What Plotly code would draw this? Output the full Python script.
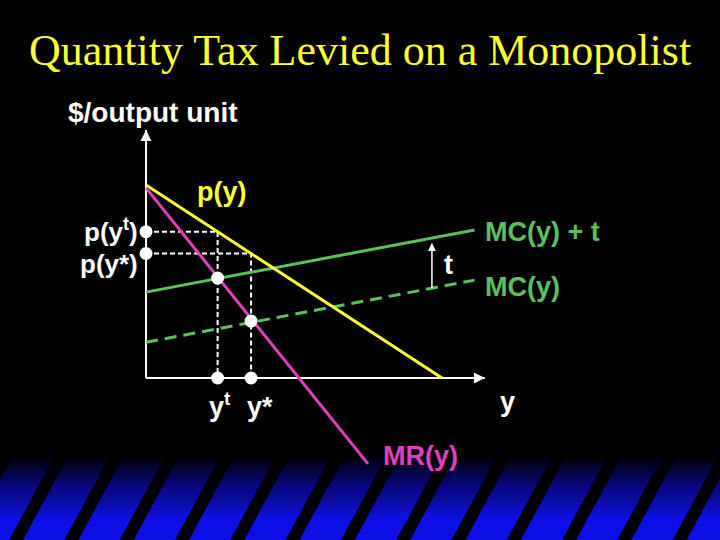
import plotly.graph_objects as go

# ---------------- data (economic model) ----------------
demand_q = [0.0, 10.0]
demand_p = [10.0, 0.0]

mr_q = [0.0, 7.5]
mr_p = [9.85, -4.45]

mc_q = [0.0, 11.1]
mc_p = [1.85, 5.07]
mct_p = [4.45, 7.67]          # MC(y) + t

y_t = 2.42
y_star = 3.55
p_t = 7.58
p_star = 6.45
mr_at_t = 5.18
mr_at_star = 2.95

axis_x_end = 11.45
axis_y_end = 12.85
tax_arrow_q = 9.66
tax_arrow_from = 4.65
tax_arrow_to = 7.25

# ---------------- pixel <-> data helpers (layout only) ----------------
W, H = 720, 540
OFF = 0                     # body margin removed in the page
OX, OY = 146.0, 378.0
SX, SY = 29.6, 19.3


def X(px):
    return (px - OX) / SX


def Y(py):
    return (OY - py) / SY


def PX(px):
    return (px - OFF) / W


def PY(py):
    return 1 - (py - OFF) / H


YELLOW = "#FFFF33"
MAGENTA = "#E040C0"
GREEN = "#5CC05C"
WHITE = "#FFFFFF"

fig = go.Figure()

# axes
fig.add_trace(go.Scatter(x=[0, axis_x_end], y=[0, 0], mode="lines",
                         line=dict(color=WHITE, width=2), hoverinfo="skip", showlegend=False))
fig.add_trace(go.Scatter(x=[0, 0], y=[0, axis_y_end], mode="lines",
                         line=dict(color=WHITE, width=2), hoverinfo="skip", showlegend=False))
fig.add_trace(go.Scatter(x=[axis_x_end], y=[0], mode="markers",
                         marker=dict(symbol="arrow-right", size=11, color=WHITE, line=dict(width=0)),
                         hoverinfo="skip", showlegend=False))
fig.add_trace(go.Scatter(x=[0], y=[axis_y_end], mode="markers",
                         marker=dict(symbol="arrow-up", size=11, color=WHITE, line=dict(width=0)),
                         hoverinfo="skip", showlegend=False))

# dotted guide lines
for q, p in [(y_t, p_t), (y_star, p_star)]:
    fig.add_trace(go.Scatter(x=[0, q, q], y=[p, p, 0], mode="lines",
                             line=dict(color=WHITE, width=2, dash="5px,3px"),
                             hoverinfo="skip", showlegend=False))

# MC (dashed) and MC + t
fig.add_trace(go.Scatter(x=mc_q, y=mc_p, mode="lines",
                         line=dict(color=GREEN, width=3, dash="12px,7px"),
                         showlegend=False))
fig.add_trace(go.Scatter(x=mc_q, y=mct_p, mode="lines",
                         line=dict(color=GREEN, width=3), showlegend=False))
# demand
fig.add_trace(go.Scatter(x=demand_q, y=demand_p, mode="lines",
                         line=dict(color=YELLOW, width=3), showlegend=False))
# MR
fig.add_trace(go.Scatter(x=mr_q, y=mr_p, mode="lines",
                         line=dict(color=MAGENTA, width=3), showlegend=False))

# tax arrow
fig.add_trace(go.Scatter(x=[tax_arrow_q, tax_arrow_q], y=[tax_arrow_from, tax_arrow_to - 0.3],
                         mode="lines", line=dict(color=WHITE, width=1.5),
                         hoverinfo="skip", showlegend=False))
fig.add_trace(go.Scatter(x=[tax_arrow_q], y=[tax_arrow_to - 0.25], mode="markers",
                         marker=dict(symbol="arrow-up", size=8, color=WHITE, line=dict(width=0)),
                         hoverinfo="skip", showlegend=False))

# points
fig.add_trace(go.Scatter(
    x=[0, 0, y_t, y_star, y_t, y_star],
    y=[p_t, p_star, mr_at_t, mr_at_star, 0, 0],
    mode="markers", marker=dict(color=WHITE, size=13, line=dict(width=0)),
    showlegend=False))

shapes = []
# gradient band at bottom
top, bot = 455, 550
full = 518
n = 48
for i in range(n):
    y0 = top + (bot - top) * i / n
    y1 = top + (bot - top) * (i + 1) / n
    ym = (y0 + y1) / 2
    f = min(1.0, max(0.0, (ym - top) / (full - top)))
    b = int(round(255 * f))
    rg = int(round(15 * f))
    shapes.append(dict(type="rect", xref="paper", yref="paper",
                       x0=PX(-10), x1=PX(740), y0=PY(y1) - 0.0005, y1=PY(y0),
                       fillcolor=f"rgb({rg},{rg},{b})", line=dict(width=0),
                       layer="below"))
# black diagonal stripes
period = 55.3
slope = 0.54
sw = 14
k = -2
while True:
    x0 = 55 + k * period
    if x0 - slope * (bot - top) > W + 20:
        break
    s = slope * (bot - top)
    pts = [(x0, top), (x0 + sw, top), (x0 + sw - s, bot), (x0 - s, bot)]
    path = "M " + " L ".join(f"{PX(px):.5f},{PY(py):.5f}" for px, py in pts) + " Z"
    shapes.append(dict(type="path", xref="paper", yref="paper", path=path,
                       fillcolor="black", line=dict(width=0), layer="below"))
    k += 1

ann = []
SANS = "Liberation Sans, Arial, sans-serif"


def label(text, px, py, color, xanchor="center", yanchor="middle", size=27,
          weight="bold", family=SANS):
    ann.append(dict(x=X(px), y=Y(py), xref="x", yref="y", text=text, showarrow=False,
                    xanchor=xanchor, yanchor=yanchor, borderpad=0,
                    font=dict(family=family, size=size, color=color, weight=weight)))


label("Quantity Tax Levied on a Monopolist", 360, 50, YELLOW, size=44, weight="normal",
      family="Liberation Serif, Times New Roman, serif")
label("$/output unit", 153, 112, WHITE, size=28)
label("p(y)", 222, 192, YELLOW)
label("p(y<sup>t</sup>)", 139, 248, WHITE, xanchor="right", yanchor="bottom", size=26)
label("p(y*)", 139, 248, WHITE, xanchor="right", yanchor="top", size=26)
label("MC(y) + t", 484, 232, GREEN, xanchor="left")
label("MC(y)", 484, 287, GREEN, xanchor="left")
label("t", 448, 265, WHITE)
label("y", 507, 402, WHITE)
label("y<sup>t</sup>", 220, 405, WHITE)
label("y*", 260, 407, WHITE)
label("MR(y)", 420, 456, MAGENTA)

fig.update_layout(
    width=W, height=H, autosize=False,
    margin=dict(l=0, r=0, t=0, b=0),
    paper_bgcolor="black", plot_bgcolor="black",
    xaxis=dict(range=[X(OFF), X(W + OFF)], visible=False, fixedrange=True),
    yaxis=dict(range=[Y(H + OFF), Y(OFF)], visible=False, fixedrange=True),
    shapes=shapes, annotations=ann, showlegend=False, hovermode=False,
)

fig.write_html(
    "out.html",
    config={"displayModeBar": False, "staticPlot": True},
    post_script="document.body.style.margin='0';document.body.style.backgroundColor='black';",
)
